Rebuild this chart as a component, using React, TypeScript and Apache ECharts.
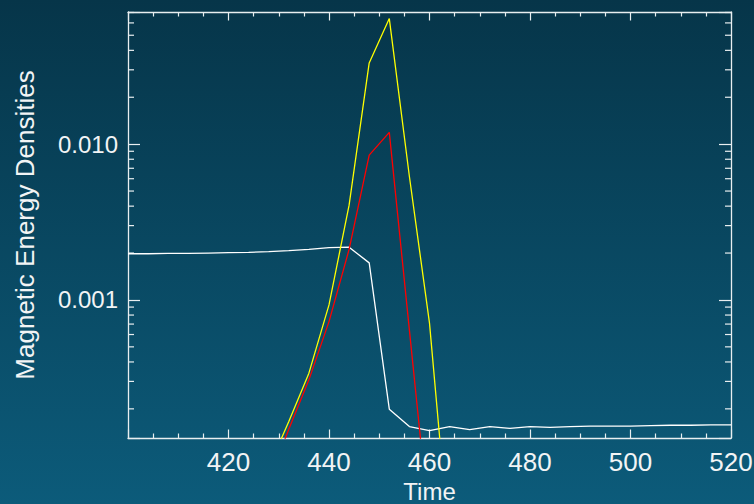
import React, { useEffect, useRef } from 'react';
import * as echarts from 'echarts';

// Time samples
const times = [
  400, 404, 408, 412, 416, 420, 424, 428, 432, 436, 440, 444, 448, 452, 456, 460,
  464, 468, 472, 476, 480, 484, 488, 492, 496, 500, 504, 508, 512, 516, 520,
];
// White curve
const whiteValues = [
  0.00198, 0.00198, 0.00199, 0.00199, 0.002, 0.00201, 0.00202, 0.00204, 0.00207, 0.00211,
  0.00217, 0.00218, 0.00173, 0.000199, 0.000154, 0.000145, 0.000154, 0.000147, 0.000154,
  0.00015, 0.000154, 0.000152, 0.000154, 0.000155, 0.000155, 0.000155, 0.000156, 0.000157,
  0.000157, 0.000158, 0.000158,
];
// Yellow curve
const yellowTimes = [428, 432, 436, 440, 444, 448, 452, 456, 460, 464];
const yellowValues = [8.4e-5, 0.000166, 0.000339, 0.000929, 0.00406, 0.0332, 0.064, 0.0062, 0.00071, 2.5e-5];
// Red curve
const redTimes = [428, 432, 436, 440, 444, 448, 452, 456, 460];
const redValues = [6.9e-5, 0.000148, 0.000307, 0.000726, 0.00211, 0.0085, 0.0119, 0.00064, 3.5e-5];

const xTickLabels = ['420', '440', '460', '480', '500', '520'];
const yTickLabels = ['0.001', '0.010'];
const yMinorTicks = [
  0.0002, 0.0003, 0.0004, 0.0005, 0.0006, 0.0007, 0.0008, 0.0009,
  0.002, 0.003, 0.004, 0.005, 0.006, 0.007, 0.008, 0.009,
  0.02, 0.03, 0.04, 0.05, 0.06, 0.07,
];

const X_MIN = 400;
const X_MAX = 520;
const Y_MIN = 0.000130;
const Y_MAX = 0.0705;

const FONT = 'Liberation Sans, Arial, Helvetica, sans-serif';
const AXIS_COLOR = '#e8eef0';
const TEXT_COLOR = '#f2f4f5';

export default function App() {
  const ref = useRef<HTMLDivElement>(null);

  useEffect(() => {
    if (!ref.current) return;
    const chart = echarts.init(ref.current, undefined, { renderer: 'svg' });

    const xCommon = {
      type: 'value',
      min: X_MIN,
      max: X_MAX,
      interval: 20,
      axisLine: { show: true, onZero: false, lineStyle: { color: AXIS_COLOR, width: 1.3 } },
      axisTick: { show: true, inside: true, length: 8.5, lineStyle: { color: AXIS_COLOR, width: 1.2 } },
      minorTick: { show: true, splitNumber: 4, length: 4.5, lineStyle: { color: AXIS_COLOR, width: 1.2 } },
      splitLine: { show: false },
      minorSplitLine: { show: false },
    };
    const yCommon = {
      type: 'log',
      logBase: 10,
      min: Y_MIN,
      max: Y_MAX,
      axisLine: { show: true, onZero: false, lineStyle: { color: AXIS_COLOR, width: 1.3 } },
      axisTick: { show: true, inside: true, length: 12, lineStyle: { color: AXIS_COLOR, width: 1.2 } },
      splitLine: { show: false },
    };

    chart.setOption({
      animation: false,
      backgroundColor: 'transparent',
      grid: {
        left: 128,
        top: 12,
        width: 603,
        height: 426,
        containLabel: false,
        outerBoundsMode: 'none',
      },
      xAxis: [
        {
          ...xCommon,
          position: 'bottom',
          name: 'Time',
          nameLocation: 'middle',
          nameGap: 37,
          nameTextStyle: { color: TEXT_COLOR, fontSize: 24, lineHeight: 24, fontFamily: FONT },
          axisLabel: {
            show: true,
            color: TEXT_COLOR,
            fontSize: 26,
            fontFamily: FONT,
            margin: 11,
            formatter: (v: number) => (xTickLabels.includes(String(v)) ? String(v) : ''),
          },
        },
        {
          ...xCommon,
          position: 'top',
          axisLabel: { show: false },
        },
      ],
      yAxis: [
        {
          ...yCommon,
          position: 'left',
          name: 'Magnetic Energy Densities',
          nameLocation: 'middle',
          nameGap: 90,
          nameTextStyle: { color: TEXT_COLOR, fontSize: 26, fontFamily: FONT },
          axisLabel: {
            show: true,
            color: TEXT_COLOR,
            fontSize: 24,
            fontFamily: FONT,
            margin: 10,
            formatter: (v: number) => {
              const s = v.toFixed(3);
              return yTickLabels.includes(s) && Math.abs(v - Number(s)) < 1e-9 ? s : '';
            },
          },
        },
        {
          ...yCommon,
          position: 'right',
          axisLabel: { show: false },
        },
      ],
      series: [
        {
          type: 'custom',
          xAxisIndex: 0,
          yAxisIndex: 0,
          silent: true,
          clip: false,
          encode: { x: 0, y: 1 },
          data: yMinorTicks.map((v) => [X_MIN, v]),
          renderItem: (params: any, api: any) => {
            const v = api.value(1);
            const l = api.coord([X_MIN, v]);
            const r = api.coord([X_MAX, v]);
            const style = { stroke: AXIS_COLOR, lineWidth: 1.2 };
            return {
              type: 'group',
              children: [
                { type: 'line', shape: { x1: l[0], y1: l[1], x2: l[0] + 6, y2: l[1] }, style },
                { type: 'line', shape: { x1: r[0], y1: r[1], x2: r[0] - 6, y2: r[1] }, style },
              ],
            };
          },
        },
        {
          type: 'line',
          name: 'white',
          data: times.map((t, i) => [t, whiteValues[i]]),
          showSymbol: false,
          lineStyle: { color: '#ffffff', width: 1.3 },
          itemStyle: { color: '#ffffff' },
          clip: true,
        },
        {
          type: 'line',
          name: 'yellow',
          data: yellowTimes.map((t, i) => [t, yellowValues[i]]),
          showSymbol: false,
          lineStyle: { color: '#ffff00', width: 1.3 },
          itemStyle: { color: '#ffff00' },
          clip: true,
        },
        {
          type: 'line',
          name: 'red',
          data: redTimes.map((t, i) => [t, redValues[i]]),
          showSymbol: false,
          lineStyle: { color: '#ff0000', width: 1.3 },
          itemStyle: { color: '#ff0000' },
          clip: true,
        },
      ],
    });

    return () => chart.dispose();
  }, []);

  return (
    <div
      style={{
        position: 'fixed',
        left: 0,
        top: 0,
        width: 754,
        height: 504,
        background: 'linear-gradient(180deg, #063549 0%, #0c5b7a 100%)',
      }}
    >
      <div ref={ref} style={{ width: 754, height: 504 }} />
    </div>
  );
}
